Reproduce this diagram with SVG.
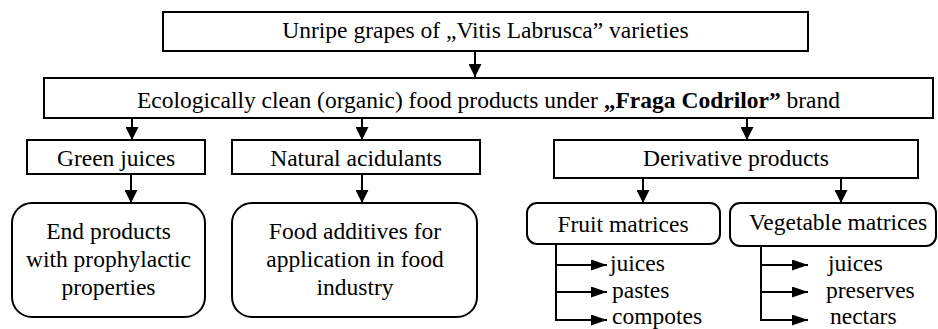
<svg xmlns="http://www.w3.org/2000/svg" width="938" height="329" viewBox="0 0 938 329">
<style>
  .box { fill: #fff; stroke: #000; stroke-width: 2; }
  .t { font-family: 'Liberation Serif', 'DejaVu Serif', serif; font-size: 23.5px; fill: #000; }
  .c { text-anchor: middle; }
  .ln { stroke: #000; stroke-width: 2; fill: none; }
</style>
<defs>
  <marker id="ah" markerUnits="userSpaceOnUse" markerWidth="13" markerHeight="13" refX="13" refY="6.5" orient="auto">
    <path d="M0,0 L13,6.5 L0,13 z" fill="#000"/>
  </marker>
  <marker id="ah2" markerUnits="userSpaceOnUse" markerWidth="16" markerHeight="11" refX="16" refY="5.5" orient="auto">
    <path d="M0,0 L16,5.5 L0,11 z" fill="#000"/>
  </marker>
</defs>
<rect width="938" height="329" fill="#fff"/>

<g id="n-unripe">
  <rect class="box" x="163" y="12" width="645" height="39"/>
  <text class="t c" x="485.5" y="38" font-family="Liberation Serif, serif">Unripe grapes of „Vitis Labrusca” varieties</text>
</g>
<g id="n-eco">
  <rect class="box" x="44" y="78" width="889" height="40"/>
  <text class="t c" x="488.5" y="108">Ecologically clean (organic) food products under <tspan font-weight="bold">„Fraga Codrilor”</tspan> brand</text>
</g>
<g id="n-green">
  <rect class="box" x="27" y="140" width="178" height="34"/>
  <text class="t c" x="116" y="166">Green juices</text>
</g>
<g id="n-natural">
  <rect class="box" x="232" y="140" width="248" height="34"/>
  <text class="t c" x="356" y="166">Natural acidulants</text>
</g>
<g id="n-derivative">
  <rect class="box" x="554" y="140" width="364" height="38"/>
  <text class="t c" x="736" y="166">Derivative products</text>
</g>
<g id="n-end">
  <rect class="box" x="12" y="203" width="193" height="114" rx="20" ry="20"/>
  <text class="t c" x="108.5" y="239">End products</text>
  <text class="t c" x="108.5" y="267">with prophylactic</text>
  <text class="t c" x="108.5" y="295">properties</text>
</g>
<g id="n-additives">
  <rect class="box" x="232" y="203" width="245" height="114" rx="20" ry="20"/>
  <text class="t c" x="355" y="239">Food additives for</text>
  <text class="t c" x="355" y="267">application in food</text>
  <text class="t c" x="355" y="295">industry</text>
</g>
<g id="n-fruit">
  <rect class="box" x="527" y="203" width="193" height="41" rx="10" ry="10"/>
  <text class="t c" x="623" y="232">Fruit matrices</text>
  <text class="t" x="610" y="271">juices</text>
  <text class="t" x="612" y="298">pastes</text>
  <text class="t" x="612" y="324">compotes</text>
</g>
<g id="n-veg">
  <rect class="box" x="730" y="203" width="206" height="43" rx="10" ry="10"/>
  <text class="t c" x="838" y="230">Vegetable matrices</text>
  <text class="t" x="828" y="271">juices</text>
  <text class="t" x="826" y="298">preserves</text>
  <text class="t" x="830" y="324">nectars</text>
</g>

<g id="connectors">
  <line class="ln" x1="475" y1="51" x2="475" y2="77" marker-end="url(#ah)"/>
  <line class="ln" x1="132" y1="118" x2="132" y2="140" marker-end="url(#ah)"/>
  <line class="ln" x1="362" y1="118" x2="362" y2="140" marker-end="url(#ah)"/>
  <line class="ln" x1="747" y1="118" x2="747" y2="140" marker-end="url(#ah)"/>
  <line class="ln" x1="131" y1="174" x2="131" y2="203" marker-end="url(#ah)"/>
  <line class="ln" x1="362" y1="174" x2="362" y2="203" marker-end="url(#ah)"/>
  <line class="ln" x1="643" y1="178" x2="643" y2="203" marker-end="url(#ah)"/>
  <line class="ln" x1="841" y1="178" x2="841" y2="203" marker-end="url(#ah)"/>
  <path class="ln" d="M556,244 V320"/>
  <line class="ln" x1="556" y1="265" x2="607" y2="265" marker-end="url(#ah2)"/>
  <line class="ln" x1="556" y1="292" x2="607" y2="292" marker-end="url(#ah2)"/>
  <line class="ln" x1="555" y1="320" x2="607" y2="320" marker-end="url(#ah2)"/>
  <path class="ln" d="M761,246 V320"/>
  <line class="ln" x1="761" y1="265" x2="808" y2="265" marker-end="url(#ah2)"/>
  <line class="ln" x1="761" y1="292" x2="808" y2="292" marker-end="url(#ah2)"/>
  <line class="ln" x1="760" y1="320" x2="808" y2="320" marker-end="url(#ah2)"/>
</g>
</svg>
